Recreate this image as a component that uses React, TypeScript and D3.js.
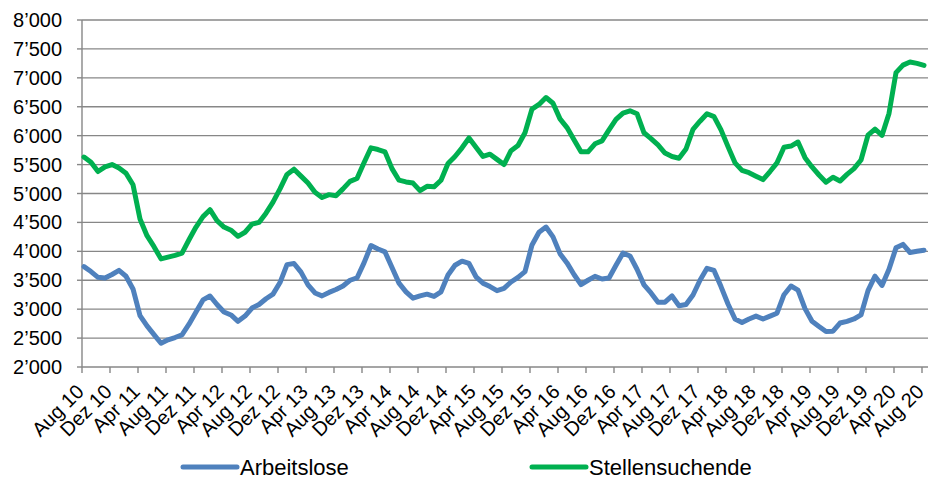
import React from "react";
import * as d3 from "d3";

const monthNames = ["Aug", "Dez", "Apr"];
const labelYears = [10, 10, 11, 11, 11, 12, 12, 12, 13, 13, 13, 14, 14, 14, 15, 15, 15, 16, 16, 16, 17, 17, 17, 18, 18, 18, 19, 19, 19, 20, 20];
const yTicks = [2000, 2500, 3000, 3500, 4000, 4500, 5000, 5500, 6000, 6500, 7000, 7500, 8000];

const arbeitslose = [
  3735, 3650, 3550, 3540, 3600, 3670, 3570, 3350, 2890, 2710,
  2560, 2410, 2470, 2510, 2554, 2740, 2950, 3160, 3228, 3080,
  2950, 2900, 2790, 2880, 3020, 3080, 3180, 3260, 3460, 3770,
  3790, 3640, 3420, 3280, 3230, 3290, 3340, 3400, 3500, 3540,
  3800, 4100, 4040, 3990, 3720, 3450, 3300, 3190, 3230, 3260,
  3220, 3300, 3590, 3760, 3830, 3790, 3560, 3450, 3390, 3320,
  3360, 3470, 3550, 3650, 4110, 4330, 4420, 4250, 3960, 3800,
  3600, 3425, 3500, 3568, 3522, 3540, 3760, 3970, 3920, 3690,
  3420, 3280, 3120, 3120, 3228, 3060, 3080, 3245, 3500, 3707,
  3670, 3390, 3090, 2830, 2770, 2830, 2880, 2830, 2880, 2930,
  3250, 3400, 3330, 3010, 2790, 2700, 2615, 2620, 2760, 2790,
  2830, 2900, 3320, 3570, 3410, 3690, 4060, 4120, 3980, 4000,
  4020,
];

const stellensuchende = [
  5630, 5540, 5380, 5460, 5500, 5440, 5350, 5150, 4560, 4270,
  4080, 3870, 3900, 3930, 3970, 4200, 4420, 4600, 4720, 4530,
  4420, 4365, 4260, 4330, 4470, 4500, 4660, 4850, 5080, 5330,
  5420, 5300, 5180, 5020, 4930, 4980, 4960, 5080, 5210, 5260,
  5530, 5790, 5760, 5720, 5430, 5230, 5200, 5180, 5050, 5125,
  5115, 5230, 5520, 5640, 5790, 5960, 5800, 5640, 5680, 5590,
  5500, 5740, 5830, 6050, 6460, 6540, 6660, 6560, 6290, 6140,
  5930, 5720, 5720, 5860, 5910, 6100, 6280, 6390, 6430, 6380,
  6050, 5950, 5840, 5700, 5640, 5610, 5770, 6110, 6250, 6380,
  6330, 6100, 5810, 5530, 5400, 5360, 5300, 5240, 5380, 5530,
  5800, 5820, 5890, 5620, 5460, 5320, 5195, 5280, 5215, 5330,
  5430, 5580, 6010, 6115, 6005, 6385, 7090, 7220, 7275, 7250,
  7215,
];

const seriesNames = ["Arbeitslose", "Stellensuchende"];
const seriesColors = ["#4F81BD", "#00B050"];

const W = 928;
const H = 479;
const FONT = "'Liberation Sans', Arial, sans-serif";

export default function App() {
  const n = arbeitslose.length;
  const x = d3.scaleLinear().domain([0, n - 1]).range([84, 924]);
  const xAxis = d3.scaleLinear().domain([0, n - 1]).range([82, 922]);
  const y = d3.scaleLinear().domain([2000, 8000]).range([367, 20]);
  const line = d3
    .line<number>()
    .x((_, i) => x(i))
    .y((d) => y(d));
  const fmt = (v: number) => {
    const s = String(v);
    return s.slice(0, s.length - 3) + "\u2019" + s.slice(s.length - 3);
  };
  const labels = labelYears.map((yr, k) => `${monthNames[k % 3]} ${yr}`);
  const axisColor = "#878787";
  const series = [arbeitslose, stellensuchende];
  const legendX = [183, 532];

  return (
    <svg
      width={W}
      height={H}
      style={{ position: "absolute", left: 0, top: 0, background: "#fff" }}
      fontFamily={FONT}
    >
      {yTicks.map((t) => (
        <g key={t}>
          <line x1={82} x2={928} y1={y(t)} y2={y(t)} stroke={axisColor} strokeWidth={1.4} />
          <line x1={77} x2={82} y1={y(t)} y2={y(t)} stroke={axisColor} strokeWidth={1.4} />
          <text x={62} y={y(t)} dy="0.35em" textAnchor="end" fontSize={20} fill="#000">
            {fmt(t)}
          </text>
        </g>
      ))}
      <line x1={82} x2={82} y1={y(8000)} y2={y(2000)} stroke={axisColor} strokeWidth={1.4} />
      {labels.map((lab, k) => {
        const tx = xAxis(k * 4);
        return (
          <g key={k}>
            <line x1={tx} x2={tx} y1={367} y2={373} stroke={axisColor} strokeWidth={1.4} />
            <text
              transform={`translate(${tx + 3},${393}) rotate(-45)`}
              textAnchor="end"
              fontSize={20}
              fill="#000"
            >
              {lab}
            </text>
          </g>
        );
      })}
      {series.map((s, si) => (
        <path
          key={si}
          d={line(s) || ""}
          fill="none"
          stroke={seriesColors[si]}
          strokeWidth={5}
          strokeLinejoin="round"
          strokeLinecap="round"
        />
      ))}
      {seriesNames.map((name, si) => (
        <g key={name}>
          <line
            x1={legendX[si]}
            x2={legendX[si] + 54}
            y1={467}
            y2={467}
            stroke={seriesColors[si]}
            strokeWidth={5}
            strokeLinecap="round"
          />
          <text x={legendX[si] + 57} y={475} fontSize={22} fill="#000">
            {name}
          </text>
        </g>
      ))}
    </svg>
  );
}
